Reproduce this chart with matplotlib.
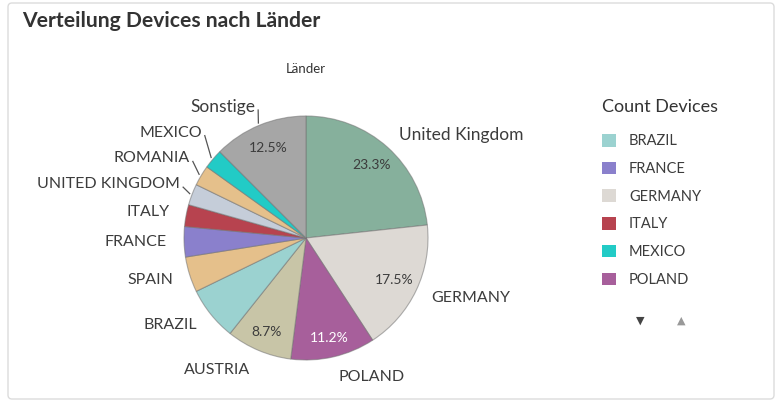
import numpy as np
import matplotlib
matplotlib.use("Agg")
import matplotlib.pyplot as plt
from matplotlib.patches import Patch, FancyBboxPatch

plt.rcParams['font.family'] = ['Lato', 'DejaVu Sans']

# ---- data ----
categories = ["United Kingdom", "GERMANY", "POLAND", "AUSTRIA", "BRAZIL", "SPAIN",
              "FRANCE", "ITALY", "UNITED KINGDOM", "ROMANIA", "MEXICO", "Sonstige"]
shares = [23.3, 17.5, 11.2, 8.7, 7.1, 4.7, 4.0, 2.9, 2.8, 2.7, 2.6, 12.5]
colors = ["#86b09c", "#ddd9d4", "#a75f9b", "#c8c5a7", "#9bd2d0", "#e5c08b",
          "#8a80cc", "#b7434f", "#c5cdd9", "#e5c08b", "#22cbc6", "#a6a6a6"]
legend_items = ["BRAZIL", "FRANCE", "GERMANY", "ITALY", "MEXICO", "POLAND"]
title = "Verteilung Devices nach Länder"
subtitle = "Länder"
legend_title = "Count Devices"

# leader-line styling for small slices: (angle offset in deg, outer radius factor)
leader_style = {"UNITED KINGDOM": (-1.6, 1.09), "ROMANIA": (-3.3, 1.12),
                "MEXICO": (-5.0, 1.18), "Sonstige": (-2.0, 1.12)}

W, H = 777, 403
fig = plt.figure(figsize=(W / 100, H / 100), dpi=100)
ax = fig.add_axes([0, 0, 1, 1])

card = FancyBboxPatch((8, 4), 766, 396, boxstyle="round,pad=0,rounding_size=4",
                      fc="white", ec="#dcdcdc", lw=1.0, zorder=0)
ax.add_patch(card)

cx, cy, R = 306, H - 238, 122
wedges, _ = ax.pie(shares, colors=colors, startangle=90, counterclock=False,
                   center=(cx, cy), radius=R, frame=True,
                   wedgeprops=dict(edgecolor=(0.45, 0.45, 0.45, 0.55), linewidth=0.8))
ax.set_xlim(0, W)
ax.set_ylim(0, H)
ax.set_aspect("equal")
ax.axis("off")

txtc = "#3c3c3c"
for w, lab, v in zip(wedges, categories, shares):
    mid_deg = (w.theta1 + w.theta2) / 2
    mid = np.deg2rad(mid_deg)
    ca, sa = np.cos(mid), np.sin(mid)
    fs = 11.5 if lab.isupper() else 12.5
    if lab in leader_style:
        off, ro = leader_style[lab]
        a2 = np.deg2rad(mid_deg + off)
        x1, y1 = cx + R * 1.02 * ca, cy + R * 1.02 * sa
        x2, y2 = cx + R * ro * np.cos(a2), cy + R * ro * np.sin(a2)
        ax.plot([x1, x2], [y1, y2], color="#555555", lw=0.9)
        ax.text(x2 - 3, y2 + 3, lab, ha="right", va="center", fontsize=fs, color=txtc)
    else:
        ha = "left" if ca > 0 else "right"
        ld = 1.17 if lab in ("POLAND", "AUSTRIA") else 1.14
        ax.text(cx + R * ld * ca, cy + R * ld * sa, lab, ha=ha, va="center",
                fontsize=fs, color=txtc)
    if v > 8:
        pd = 0.8 if v > 12 else 0.84
        ax.text(cx + R * pd * ca, cy + R * pd * sa, f"{v:.1f}%", ha="center", va="center",
                fontsize=10, color="white" if lab == "POLAND" else txtc)

fig.text(22 / W, 1 - 21 / H, title, fontsize=15.2, fontweight="bold", color="#333333",
         ha="left", va="center")
fig.text(306 / W, 1 - 69 / H, subtitle, fontsize=9.5, color="#333333", ha="center", va="center")

# legend
fig.text(602 / W, 1 - 107 / H, legend_title, fontsize=13, color="#333333",
         ha="left", va="center")
handles = [Patch(facecolor=colors[categories.index(n)], edgecolor="none") for n in legend_items]
leg = ax.legend(handles, legend_items, loc="upper left",
                bbox_to_anchor=(602 / W, 1 - 134 / H), bbox_transform=fig.transFigure,
                frameon=False, fontsize=10.5, labelspacing=0.92,
                handlelength=0.95, handleheight=0.95, handletextpad=0.9,
                labelcolor=txtc, borderaxespad=0, borderpad=0)

fig.text(640 / W, 1 - 321 / H, "▼", fontsize=8, color="#444444", ha="center", va="center",
         family="DejaVu Sans")
fig.text(681 / W, 1 - 321 / H, "▲", fontsize=8, color="#999999", ha="center", va="center",
         family="DejaVu Sans")

fig.savefig("out.png", dpi=100)
